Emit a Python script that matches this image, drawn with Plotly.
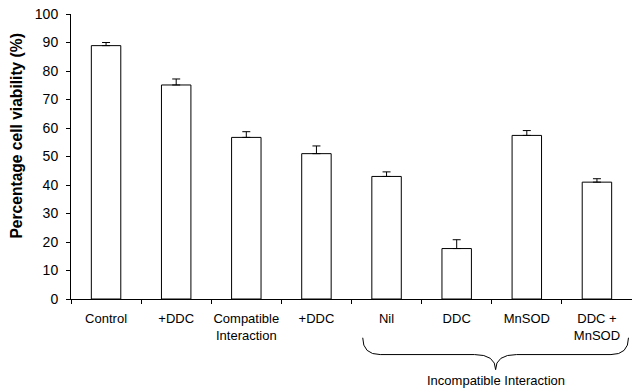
import plotly.graph_objects as go

categories = ["Control", "+DDC", "Compatible<br>Interaction", "+DDC", "Nil", "DDC", "MnSOD", "DDC +<br>MnSOD"]
viability = [88.9, 75.1, 56.7, 51.0, 43.0, 17.7, 57.4, 41.0]
errors = [1.1, 2.1, 2.0, 2.7, 1.6, 3.1, 1.7, 1.2]
y_ticks = [0, 10, 20, 30, 40, 50, 60, 70, 80, 90, 100]
y_title = "Percentage cell viability (%)"
group_label = "Incompatible Interaction"
group_start, group_end = 4, 7

xs = list(range(len(categories)))
FONT = "Liberation Sans, Arial, sans-serif"

fig = go.Figure()
fig.add_trace(go.Bar(
    x=xs, y=viability, width=0.42,
    marker=dict(color="white", line=dict(color="black", width=1)),
    error_y=dict(type="data", symmetric=False, array=errors,
                 arrayminus=[0] * len(errors), color="black", thickness=1, width=4),
    showlegend=False,
))

# brace under the incompatible-interaction group
x0 = group_start - 0.34
x1 = group_end + 0.45
xm = (x0 + x1) / 2
ytop, ymid, ytip = -0.136, -0.195, -0.248
path = (f"M {x0},{ytop} Q {x0},{ymid} {x0+0.25},{ymid} L {xm-0.3},{ymid} "
        f"Q {xm},{ymid} {xm},{ytip} Q {xm},{ymid} {xm+0.3},{ymid} "
        f"L {x1-0.25},{ymid} Q {x1},{ymid} {x1},{ytop}")
fig.add_shape(type="path", path=path, xref="x", yref="paper",
              line=dict(color="black", width=1))
fig.add_annotation(x=xm, y=-0.252, xref="x", yref="paper", text=group_label,
                   showarrow=False, yanchor="top", font=dict(size=13, color="black", family=FONT))

# y-axis title
fig.add_annotation(x=-0.097, y=0.572, xref="paper", yref="paper", text=f"<b>{y_title}</b>",
                   textangle=-90, showarrow=False, xanchor="center", yanchor="middle",
                   font=dict(size=15.6, color="black", family=FONT))

fig.update_layout(
    width=632, height=392,
    margin=dict(l=71, r=0, t=14, b=93),
    plot_bgcolor="white", paper_bgcolor="white",
    font=dict(family=FONT, color="black"),
    xaxis=dict(range=[-0.5, 7.5], tickmode="array", tickvals=xs, ticktext=categories,
               ticks="", showline=True, linecolor="black", linewidth=1, automargin=False,
               showgrid=False, zeroline=False, tickfont=dict(size=13), ticklabelstandoff=7,
               ticklabeloverflow="allow",
               minor=dict(tickmode="array", tickvals=[i - 0.5 for i in range(len(categories) + 1)],
                          ticks="outside", ticklen=4, tickcolor="black", showgrid=False)),
    yaxis=dict(range=[0, 100], tickmode="array", tickvals=y_ticks,
               ticks="outside", ticklen=4, tickcolor="black", automargin=False,
               showline=True, linecolor="black", linewidth=1, ticklabelstandoff=5,
               ticklabeloverflow="allow",
               showgrid=False, zeroline=False, tickfont=dict(size=14)),
    bargap=0.58,
)

# remove the page body's default margin so the figure fills the window exactly
fig.write_html("out.html", config={"displayModeBar": False},
               post_script="document.body.style.margin='0px';document.body.style.overflow='hidden';")
